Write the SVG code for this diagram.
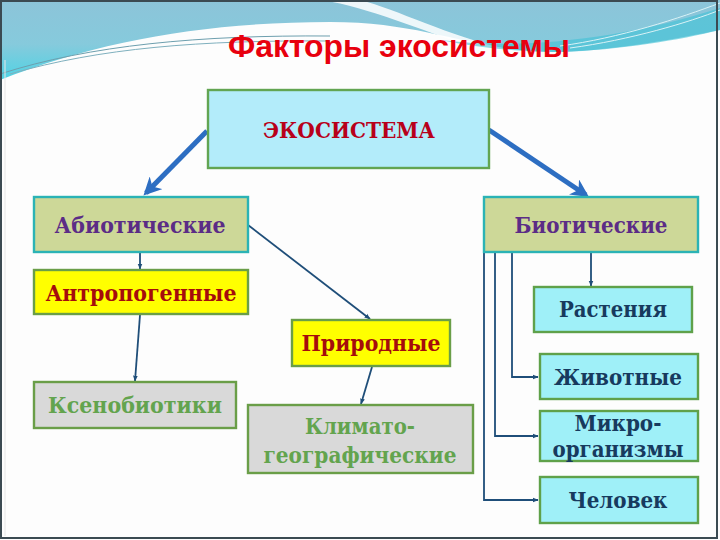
<svg xmlns="http://www.w3.org/2000/svg" width="720" height="540" viewBox="0 0 720 540">
<style>
.box{stroke-width:2.4}
.t{font-family:"DejaVu Serif","Liberation Serif",serif;font-weight:bold;font-size:22px;text-anchor:middle}
.eco{fill:#b3ecfa;stroke:#62a552}
.abio{fill:#cdd898;stroke:#2bb3b5}
.yel{fill:#ffff00;stroke:#6a9e48}
.gray{fill:#d9d9d9;stroke:#6a9e48}
.cyan{fill:#9ff0f8;stroke:#5fa14a}
.tp{fill:#5b2c86}
.tr{fill:#a50c0c}
.tg{fill:#63a44e}
.tn{fill:#173a5e}
.conn{fill:none;stroke:#1f4e79;stroke-width:1.8}
.big{fill:none;stroke:#2d6ec2;stroke-width:5}
</style>
<defs>
<linearGradient id="sky" x1="0" y1="0" x2="0" y2="80" gradientUnits="userSpaceOnUse">
<stop offset="0" stop-color="#8cc4d9"/>
<stop offset="0.55" stop-color="#86cadc"/>
<stop offset="1" stop-color="#4fd3e4"/>
</linearGradient>
<marker id="sa" viewBox="0 0 10 10" refX="9" refY="5" markerWidth="6" markerHeight="6" markerUnits="userSpaceOnUse" orient="auto">
<path d="M0,1 L10,5 L0,9 Z" fill="#1f4e79"/>
</marker>
<marker id="ba" viewBox="0 0 10 10" refX="8" refY="5" markerWidth="18" markerHeight="18" markerUnits="userSpaceOnUse" orient="auto">
<path d="M0,0 L10,5 L0,10 L3,5 Z" fill="#2d6ec2"/>
</marker>
</defs>
<!-- slide background -->
<rect width="720" height="540" fill="#fdfdfd"/>
<path d="M0,0 H720 V30 C680,38 620,50 560,52 C470,52 430,22 330,22 C210,22 100,40 0,80 Z" fill="url(#sky)"/>
<path d="M322,0 C370,8 420,30 470,46 L520,52 C450,38 400,10 360,0 Z" fill="#ffffff" opacity="0.85"/>
<path d="M440,40 C520,50 620,40 720,8 V30 C680,40 620,50 560,52 C520,52 480,48 440,40 Z" fill="#3fc2d6" opacity="0.6"/>
<path d="M0,74 C90,45 200,35 330,36" fill="none" stroke="#6d9fae" stroke-width="1"/>
<path d="M10,74 C100,48 200,40 330,41" fill="none" stroke="#7fb0be" stroke-width="1"/>
<path d="M560,46 C620,38 680,18 720,3" fill="none" stroke="#d8f2f6" stroke-width="1"/>
<path d="M570,48 C630,40 690,22 720,10" fill="none" stroke="#d8f2f6" stroke-width="1"/>
<rect x="1" y="1" width="716" height="537" fill="none" stroke="#3b4a52" stroke-width="2"/>
<line x1="5" y1="60" x2="5" y2="536" stroke="#e6e6e6" stroke-width="1"/>
<text x="399" y="57" font-family="'Liberation Sans',Arial,sans-serif" font-weight="bold" font-size="32" fill="#e8000e" text-anchor="middle" textLength="342" lengthAdjust="spacingAndGlyphs">Факторы экосистемы</text>
<!-- connectors -->
<g id="connectors">
<line class="big" x1="207" y1="131" x2="146" y2="193" marker-end="url(#ba)"/>
<line class="big" x1="489" y1="130" x2="586" y2="195" marker-end="url(#ba)"/>
<line class="conn" x1="140" y1="253" x2="140" y2="269" marker-end="url(#sa)"/>
<line class="conn" x1="140" y1="315" x2="135" y2="381" marker-end="url(#sa)"/>
<line class="conn" x1="248" y1="225" x2="370" y2="319" marker-end="url(#sa)"/>
<line class="conn" x1="372" y1="367" x2="361" y2="404" marker-end="url(#sa)"/>
<line class="conn" x1="591" y1="253" x2="591" y2="286" marker-end="url(#sa)"/>
<polyline class="conn" points="512,253 512,377 538,377" marker-end="url(#sa)"/>
<polyline class="conn" points="495,253 495,436 538,436" marker-end="url(#sa)"/>
<polyline class="conn" points="484,253 484,500 538,500" marker-end="url(#sa)"/>
</g>
<!-- nodes -->
<g id="ecosystem">
<rect class="box eco" x="208" y="90" width="281" height="78"/>
<text class="t" x="349" y="138" font-size="23" fill="#b8001a" textLength="172" lengthAdjust="spacingAndGlyphs">ЭКОСИСТЕМА</text>
</g>
<g id="abiotic">
<rect class="box abio" x="34" y="197" width="214" height="55"/>
<text class="t tp" x="140" y="233" textLength="171" lengthAdjust="spacingAndGlyphs">Абиотические</text>
</g>
<g id="biotic">
<rect class="box abio" x="484" y="197" width="214" height="55"/>
<text class="t tp" x="591" y="233" textLength="153" lengthAdjust="spacingAndGlyphs">Биотические</text>
</g>
<g id="anthropogenic">
<rect class="box yel" x="34" y="270" width="214" height="44"/>
<text class="t tr" x="141" y="301" textLength="191" lengthAdjust="spacingAndGlyphs">Антропогенные</text>
</g>
<g id="natural">
<rect class="box yel" x="292" y="320" width="158" height="46"/>
<text class="t tr" x="371" y="351" textLength="139" lengthAdjust="spacingAndGlyphs">Природные</text>
</g>
<g id="xenobiotics">
<rect class="box gray" x="34" y="382" width="202" height="46"/>
<text class="t tg" x="135" y="413" textLength="174" lengthAdjust="spacingAndGlyphs">Ксенобиотики</text>
</g>
<g id="climatic">
<rect class="box gray" x="248" y="405" width="225" height="68"/>
<text class="t tg" x="360" y="434" textLength="110" lengthAdjust="spacingAndGlyphs">Климато-</text>
<text class="t tg" x="360" y="463" textLength="193" lengthAdjust="spacingAndGlyphs">географические</text>
</g>
<g id="plants">
<rect class="box cyan" x="534" y="287" width="158" height="45"/>
<text class="t tn" x="613" y="317" textLength="108" lengthAdjust="spacingAndGlyphs">Растения</text>
</g>
<g id="animals">
<rect class="box cyan" x="540" y="354" width="158" height="45"/>
<text class="t tn" x="618" y="385" textLength="128" lengthAdjust="spacingAndGlyphs">Животные</text>
</g>
<g id="microorganisms">
<rect class="box cyan" x="540" y="411" width="158" height="50"/>
<text class="t tn" x="618" y="431" textLength="87" lengthAdjust="spacingAndGlyphs">Микро-</text>
<text class="t tn" x="618" y="457" textLength="131" lengthAdjust="spacingAndGlyphs">организмы</text>
</g>
<g id="human">
<rect class="box cyan" x="540" y="477" width="158" height="46"/>
<text class="t tn" x="618" y="508" textLength="99" lengthAdjust="spacingAndGlyphs">Человек</text>
</g>
</svg>
